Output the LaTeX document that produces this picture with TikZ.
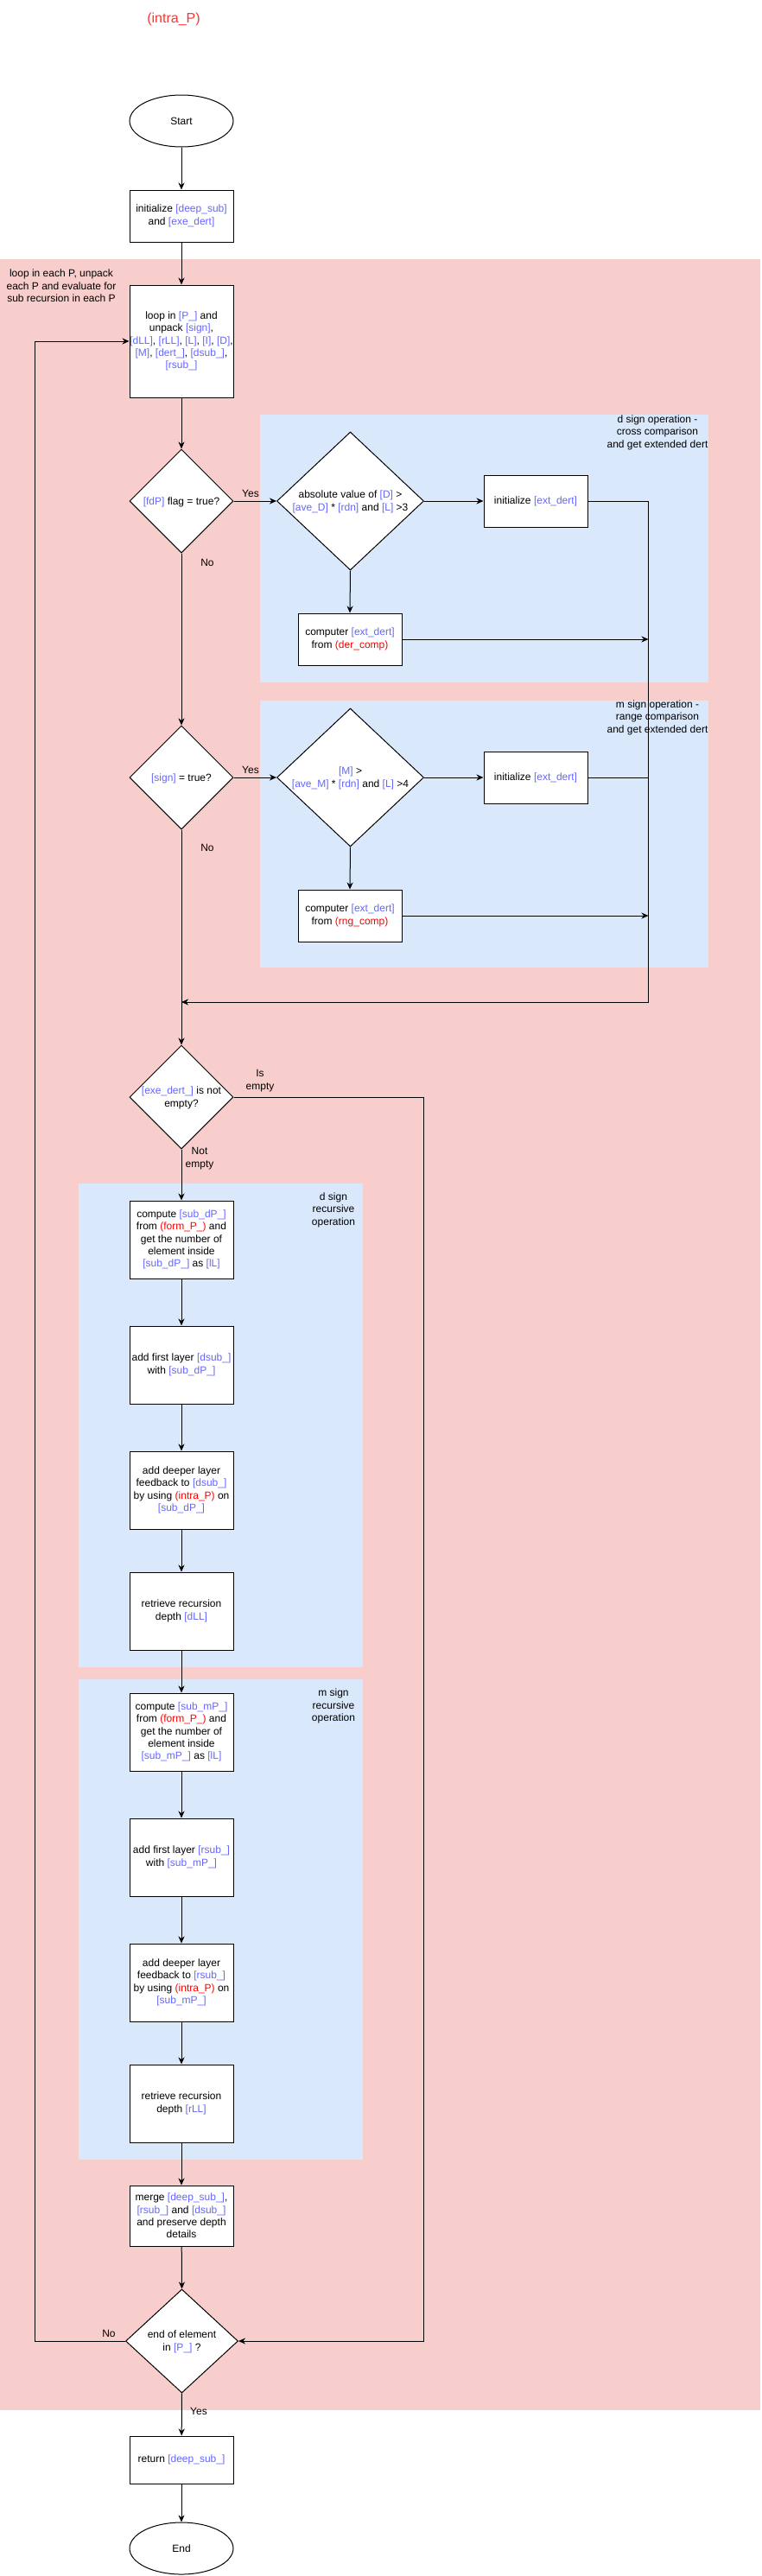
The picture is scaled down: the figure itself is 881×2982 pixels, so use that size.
\documentclass[tikz,border=0pt]{standalone}
\usepackage{fontspec}
\setmainfont{Liberation Sans}
\usetikzlibrary{shapes.geometric,arrows.meta}
\definecolor{pinkbg}{HTML}{F8CECC}
\definecolor{bluebg}{HTML}{DAE8FC}
\definecolor{txtblue}{HTML}{6666FF}
\definecolor{txtred}{HTML}{FF0000}
\definecolor{titlered}{HTML}{FF3333}
\newcommand{\bl}[1]{\textcolor{txtblue}{#1}}
\newcommand{\rd}[1]{\textcolor{txtred}{#1}}
\begin{document}
\begin{tikzpicture}[x=1pt,y=-1pt,
  every node/.style={font=\fontsize{12}{14.4}\selectfont},
  box/.style={draw, fill=white, line width=1pt, minimum width=120pt, inner sep=0pt, align=center},
  dia/.style={draw, fill=white, diamond, line width=1pt, inner sep=0pt},
  oval/.style={draw, fill=white, ellipse, line width=1pt, minimum width=120pt, minimum height=60pt, inner sep=0pt},
  lbl/.style={align=center, inner sep=0pt},
  conn/.style={line width=1pt},
  arr/.style={conn, -{Stealth[length=8pt,width=7pt,inset=2.5pt]}}
]
\useasboundingbox (0,0) rectangle (881,2982);
% backgrounds
\fill[pinkbg] (0,300) rectangle (880,2790);
\fill[bluebg] (300.5,480) rectangle (820,790);
\fill[bluebg] (300.5,811) rectangle (820,1120);
\fill[bluebg] (90.5,1370) rectangle (420,1930);
\fill[bluebg] (90.5,1944) rectangle (420,2500);

% title and region labels
\node[lbl, text=titlered, font=\fontsize{16}{19}\selectfont] (title) at (201,22) {(intra\_P)};
\node[lbl] (pinklbl) at (71,331) {loop in each P, unpack\\each P and evaluate for\\sub recursion in each P};
\node[lbl] (r1lbl) at (761,500.5) {d sign operation -\\cross comparison\\and get extended dert};
\node[lbl] (r2lbl) at (761,830.5) {m sign operation -\\range comparison\\and get extended dert};
\node[lbl] (r3lbl) at (386,1400.5) {d sign\\recursive\\operation};
\node[lbl] (r4lbl) at (386,1975) {m sign\\recursive\\operation};

% main column
\node[oval] (start) at (210,140) {Start};
\node[box, minimum height=60pt] (init) at (210,250) {initialize \bl{[deep\_sub]}\\and \bl{[exe\_dert]}};
\node[box, minimum height=130pt] (loop) at (210,395) {loop in \bl{[P\_]} and\\unpack \bl{[sign]},\\\bl{[dLL]}, \bl{[rLL]}, \bl{[L]}, \bl{[I]}, \bl{[D]},\\\bl{[M]}, \bl{[dert\_]}, \bl{[dsub\_]},\\\bl{[rsub\_]}};

\node[dia, minimum width=120pt, minimum height=120pt] (d1) at (210,580) {};
\node[lbl] (d1t) at (210,581) {\bl{[fdP]} flag = true?};
\node[dia, minimum width=170pt, minimum height=160pt] (d2) at (405.5,580) {};
\node[lbl] (d2t) at (405.5,581) {absolute value of \bl{[D]} >\\\bl{[ave\_D]} * \bl{[rdn]} and \bl{[L]} >3};
\node[box, minimum height=60pt] (ini1) at (620,580) {initialize \bl{[ext\_dert]}};
\node[box, minimum height=60pt] (cp1) at (405,740) {computer \bl{[ext\_dert]}\\from \rd{(der\_comp)}};

\node[dia, minimum width=120pt, minimum height=120pt] (d3) at (210,900) {};
\node[lbl] (d3t) at (210,901) {\bl{[sign]} = true?};
\node[dia, minimum width=170pt, minimum height=160pt] (d4) at (405.5,900) {};
\node[lbl] (d4t) at (405.5,901) {\bl{[M]} >\\\bl{[ave\_M]} * \bl{[rdn]} and \bl{[L]} >4};
\node[box, minimum height=60pt] (ini2) at (620,900) {initialize \bl{[ext\_dert]}};
\node[box, minimum height=60pt] (cp2) at (405,1060) {computer \bl{[ext\_dert]}\\from \rd{(rng\_comp)}};

\node[dia, minimum width=120pt, minimum height=120pt] (d5) at (210,1270) {};
\node[lbl] (d5t) at (210,1271) {\bl{[exe\_dert\_]} is not\\empty?};

\node[box, minimum height=90pt] (cs1) at (210,1435) {compute \bl{[sub\_dP\_]}\\from \rd{(form\_P\_)} and\\get the number of\\element inside\\\bl{[sub\_dP\_]} as \bl{[lL]}};
\node[box, minimum height=90pt] (af1) at (210,1580) {add first layer \bl{[dsub\_]}\\with \bl{[sub\_dP\_]}};
\node[box, minimum height=90pt] (dl1) at (210,1725) {add deeper layer\\feedback to \bl{[dsub\_]}\\by using \rd{(intra\_P)} on\\\bl{[sub\_dP\_]}};
\node[box, minimum height=90pt] (rt1) at (210,1865) {retrieve recursion\\depth \bl{[dLL]}};

\node[box, minimum height=90pt] (cs2) at (210,2005) {compute \bl{[sub\_mP\_]}\\from \rd{(form\_P\_)} and\\get the number of\\element inside\\\bl{[sub\_mP\_]} as \bl{[lL]}};
\node[box, minimum height=90pt] (af2) at (210,2150) {add first layer \bl{[rsub\_]}\\with \bl{[sub\_mP\_]}};
\node[box, minimum height=90pt] (dl2) at (210,2295) {add deeper layer\\feedback to \bl{[rsub\_]}\\by using \rd{(intra\_P)} on\\\bl{[sub\_mP\_]}};
\node[box, minimum height=90pt] (rt2) at (210,2435) {retrieve recursion\\depth \bl{[rLL]}};

\node[box, minimum height=70pt] (mg) at (210,2565) {merge \bl{[deep\_sub\_]},\\\bl{[rsub\_]} and \bl{[dsub\_]}\\and preserve depth\\details};
\node[dia, minimum width=130pt, minimum height=120pt] (d6) at (210.5,2710) {};
\node[lbl] (d6t) at (210.5,2711) {end of element\\in \bl{[P\_]} ?};
\node[box, minimum height=55pt] (ret) at (210,2847.5) {return \bl{[deep\_sub\_]}};
\node[oval] (end) at (210,2950) {End};

% edge labels
\node[lbl] (y1) at (290,571) {Yes};
\node[lbl] (n1) at (240,651) {No};
\node[lbl] (y2) at (290,891) {Yes};
\node[lbl] (n2) at (240,981) {No};
\node[lbl] (ie) at (301,1251) {Is\\empty};
\node[lbl] (ne) at (231,1341) {Not\\empty};
\node[lbl] (n3) at (126,2701) {No};
\node[lbl] (y3) at (230,2791) {Yes};

% connectors
\coordinate (jr) at (750.5,1160);
\coordinate (mj) at (210,1160);
\coordinate (eTop) at (490.5,1270);
\coordinate (eBot) at (490.5,2710);
\coordinate (lb) at (40.5,2710);

\draw[arr] (start) -- (init);
\draw[arr] (init) -- (loop);
\draw[arr] (loop) -- (d1);
\draw[arr] (d1.east) -- (d2.west);
\draw[arr] (d2.east) -- (ini1.west);
\draw[arr] (d2.south) -- (cp1.north);
\draw[arr] (ini1.east) -| (jr) -- (mj);
\draw[arr] (cp1.east) -- (cp1.east -| jr);
\draw[arr] (d1.south) -- (d3.north);
\draw[arr] (d3.east) -- (d4.west);
\draw[arr] (d4.east) -- (ini2.west);
\draw[arr] (d4.south) -- (cp2.north);
\draw[conn] (ini2.east) -- (ini2.east -| jr);
\draw[arr] (cp2.east) -- (cp2.east -| jr);
\draw[arr] (d3.south) -- (d5.north);
\draw[arr] (d5.east) -- (eTop) -- (eBot) -- (d6.east);
\draw[arr] (d5.south) -- (cs1.north);
\draw[arr] (cs1) -- (af1);
\draw[arr] (af1) -- (dl1);
\draw[arr] (dl1) -- (rt1);
\draw[arr] (rt1) -- (cs2);
\draw[arr] (cs2) -- (af2);
\draw[arr] (af2) -- (dl2);
\draw[arr] (dl2) -- (rt2);
\draw[arr] (rt2) -- (mg);
\draw[arr] (mg) -- (d6.north);
\draw[arr] (d6.west) -- (lb) |- (loop.west);
\draw[arr] (d6.south) -- (ret);
\draw[arr] (ret) -- (end);
\end{tikzpicture}
\end{document}
